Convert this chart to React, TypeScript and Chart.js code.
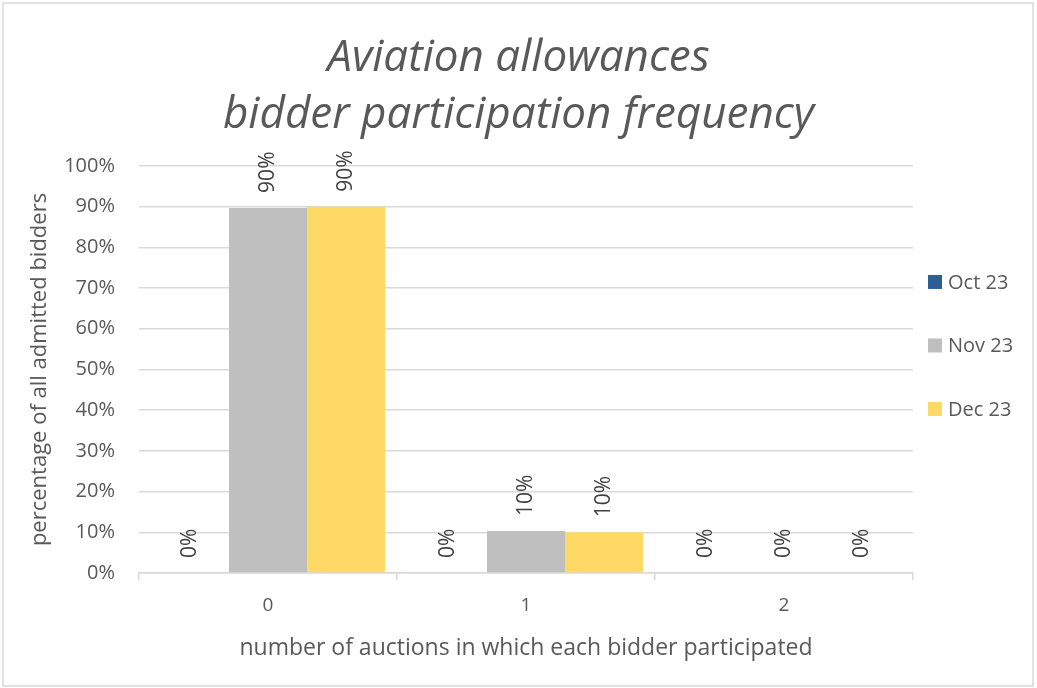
import React, { useEffect, useRef } from "react";
import { Chart, registerables } from "chart.js";

Chart.register(...registerables);

const categories = ["0", "1", "2"];
const seriesNames = ["Oct 23", "Nov 23", "Dec 23"];
const octValues = [0, 0, 0];
const novValues = [89.7, 10.3, 0];
const decValues = [90, 10, 0];
const seriesColors = ["#2E5E96", "#BFBFBF", "#FFD966"];
const titleLines = ["Aviation allowances", "bidder participation frequency"];
const yTitle = "percentage of all admitted bidders";
const xTitle = "number of auctions in which each bidder participated";

const TEXT = "#595959";
const GRID = "#D9D9D9";
const FONT = "'Open Sans', 'DejaVu Sans', sans-serif";

const frame = {
  id: "frame",
  beforeDraw(chart: any) {
    const ctx = chart.ctx;
    ctx.save();
    ctx.fillStyle = "#ffffff";
    ctx.fillRect(0, 0, chart.width, chart.height);
    ctx.strokeStyle = GRID;
    ctx.lineWidth = 1.5;
    ctx.strokeRect(3, 3, chart.width - 7, chart.height - 5);
    ctx.restore();
  },
};

const valueLabels = {
  id: "valueLabels",
  afterDatasetsDraw(chart: any) {
    const ctx = chart.ctx;
    ctx.save();
    ctx.font = `21px ${FONT}`;
    ctx.fillStyle = "#404040";
    ctx.textAlign = "left";
    ctx.textBaseline = "middle";
    chart.data.datasets.forEach((ds: any, di: number) => {
      const meta = chart.getDatasetMeta(di);
      meta.data.forEach((el: any, i: number) => {
        const v = ds.data[i];
        const txt = Math.round(v) + "%";
        ctx.save();
        ctx.translate(el.x, el.y - 15);
        ctx.rotate(-Math.PI / 2);
        ctx.fillText(txt, 0, 0);
        ctx.restore();
      });
    });
    ctx.restore();
  },
};

const sideLegend = {
  id: "sideLegend",
  afterDraw(chart: any) {
    const ctx = chart.ctx;
    const area = chart.chartArea;
    ctx.save();
    ctx.font = `20px ${FONT}`;
    ctx.textAlign = "left";
    ctx.textBaseline = "middle";
    chart.data.datasets.forEach((ds: any, i: number) => {
      const cy = area.top + 116 + i * 63.5;
      const bx = area.right + 15;
      ctx.fillStyle = ds.backgroundColor;
      ctx.fillRect(bx, cy - 7, 14, 14);
      ctx.fillStyle = TEXT;
      ctx.fillText(ds.label, bx + 20, cy + 1);
    });
    ctx.restore();
  },
};

export default function App() {
  const ref = useRef<HTMLCanvasElement | null>(null);

  useEffect(() => {
    document.body.style.margin = "0";
    if (!ref.current) return;
    const chart = new Chart(ref.current, {
      type: "bar",
      data: {
        labels: categories,
        datasets: [
          { label: seriesNames[0], data: octValues, backgroundColor: seriesColors[0] },
          { label: seriesNames[1], data: novValues, backgroundColor: seriesColors[1] },
          { label: seriesNames[2], data: decValues, backgroundColor: seriesColors[2] },
        ],
      },
      options: {
        animation: false,
        responsive: false,
        datasets: {
          bar: { categoryPercentage: 0.907, barPercentage: 1 },
        },
        layout: { padding: 0 },
        plugins: {
          legend: { display: false },
          tooltip: { enabled: false },
          title: {
            display: true,
            text: titleLines,
            color: TEXT,
            font: { family: FONT, size: 44, style: "italic", weight: "normal", lineHeight: 1.295 },
            padding: { top: 30, bottom: 22 },
          },
        },
        scales: {
          x: {
            grid: {
              display: true,
              drawOnChartArea: false,
              drawTicks: true,
              tickLength: 7,
              color: GRID,
              lineWidth: 1.5,
            },
            border: { display: true, color: GRID, width: 1.5 },
            ticks: { color: TEXT, font: { family: FONT, size: 19 }, padding: 14 },
            title: {
              display: true,
              text: xTitle,
              color: TEXT,
              font: { family: FONT, size: 23 },
              padding: { top: 0, bottom: 26 },
            },
            afterFit(scale: any) {
              scale.height = 115;
            },
          },
          y: {
            min: 0,
            max: 100,
            ticks: {
              stepSize: 10,
              color: TEXT,
              font: { family: FONT, size: 20 },
              padding: 24,
              callback: (v: any) => v + "%",
            },
            grid: { color: GRID, lineWidth: 1.5, drawTicks: false },
            border: { display: false },
            title: {
              display: true,
              text: yTitle,
              color: TEXT,
              font: { family: FONT, size: 22 },
              padding: { top: 27, bottom: 0 },
            },
            afterFit(scale: any) {
              scale.width = 139;
            },
          },
          legendSpace: {
            position: "right",
            display: true,
            min: 0,
            max: 100,
            ticks: { display: false },
            grid: { display: false, drawTicks: false },
            border: { display: false },
            afterFit(scale: any) {
              scale.width = 124;
            },
          },
        },
      } as any,
      plugins: [frame, valueLabels, sideLegend],
    });
    return () => chart.destroy();
  }, []);

  return (
    <div style={{ position: "relative", width: 1037, height: 688 }}>
      <canvas ref={ref} width={1037} height={688} />
    </div>
  );
}
